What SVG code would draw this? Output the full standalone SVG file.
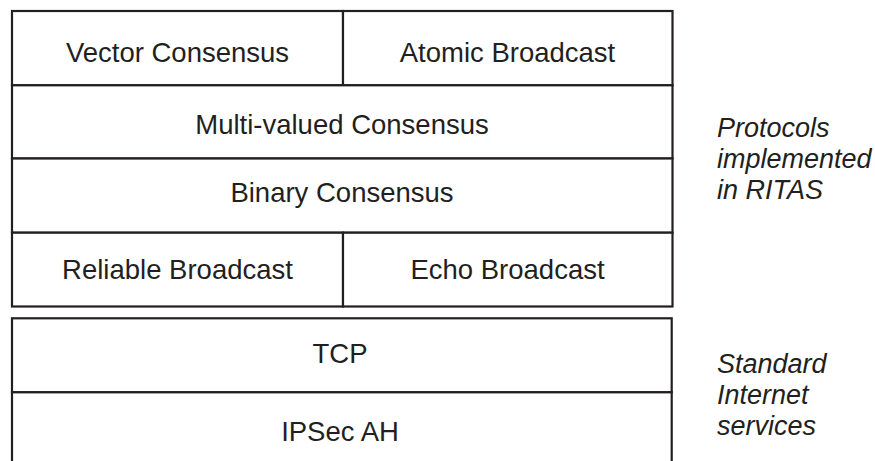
<svg xmlns="http://www.w3.org/2000/svg" width="875" height="461" viewBox="0 0 875 461">
  <style>
    .cell { fill: #ffffff; stroke: #231f20; stroke-width: 2.2; }
    .lbl { font-family: "Liberation Sans", Arial, sans-serif; font-size: 27.5px; fill: #231f20; text-anchor: middle; }
    .note { font-family: "Liberation Sans", Arial, sans-serif; font-size: 27px; font-style: italic; fill: #231f20; }
  </style>
  <rect width="875" height="461" fill="#ffffff"/>

  <!-- RITAS protocol stack -->
  <g id="vector-consensus">
    <rect class="cell" x="12" y="11" width="331" height="74.3"/>
    <text class="lbl" x="177.5" y="61.5">Vector Consensus</text>
  </g>
  <g id="atomic-broadcast">
    <rect class="cell" x="343" y="11" width="329.5" height="74.3"/>
    <text class="lbl" x="507.5" y="61.5">Atomic Broadcast</text>
  </g>
  <g id="multi-valued-consensus">
    <rect class="cell" x="12" y="85.3" width="660.5" height="73.2"/>
    <text class="lbl" x="342" y="134">Multi-valued Consensus</text>
  </g>
  <g id="binary-consensus">
    <rect class="cell" x="12" y="158.5" width="660.5" height="74.2"/>
    <text class="lbl" x="342" y="202">Binary Consensus</text>
  </g>
  <g id="reliable-broadcast">
    <rect class="cell" x="12" y="232.7" width="331" height="73.8"/>
    <text class="lbl" x="177.5" y="278.5">Reliable Broadcast</text>
  </g>
  <g id="echo-broadcast">
    <rect class="cell" x="343" y="232.7" width="329.5" height="73.8"/>
    <text class="lbl" x="507.5" y="278.5">Echo Broadcast</text>
  </g>

  <!-- Standard services stack -->
  <g id="tcp">
    <rect class="cell" x="12" y="318.3" width="659.7" height="74"/>
    <text class="lbl" x="340" y="363">TCP</text>
  </g>
  <g id="ipsec-ah">
    <rect class="cell" x="12" y="392.3" width="659.7" height="90"/>
    <text class="lbl" x="340" y="441">IPSec AH</text>
  </g>

  <g id="connectors"/>

  <!-- Side annotations -->
  <g id="note-ritas">
    <text class="note" x="717" y="137.3">Protocols</text>
    <text class="note" x="717" y="168.3">implemented</text>
    <text class="note" x="717" y="199.3">in RITAS</text>
  </g>
  <g id="note-internet">
    <text class="note" x="717" y="373.3">Standard</text>
    <text class="note" x="717" y="404.3">Internet</text>
    <text class="note" x="717" y="435">services</text>
  </g>
</svg>
